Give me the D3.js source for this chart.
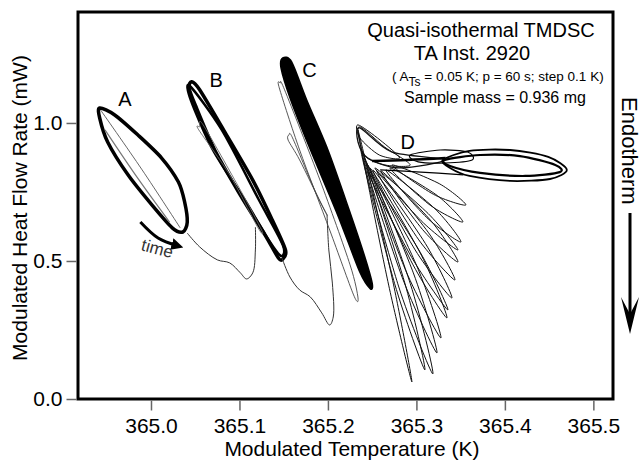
<!DOCTYPE html>
<html><head><meta charset="utf-8">
<script src="https://cdn.jsdelivr.net/npm/d3@7"></script>
<style>body{margin:0;background:#fff}svg text{font-family:"Liberation Sans",Arial,Helvetica,sans-serif}</style>
</head><body><svg id="c" width="643" height="462"></svg>
<script>
// ---- tick values ----
const xTicks = [365.0, 365.1, 365.2, 365.3, 365.4, 365.5];
const yTicks = [0.0, 0.5, 1.0];

// ---- loops: [modulated temperature (K), modulated heat flow (mW)] ----
const loopA = [[364.942,1.054],[364.959,1.029],[364.985,0.957],[365.012,0.873],[365.031,0.786],[365.038,0.714],[365.041,0.641],[365.036,0.605],[365.024,0.620],[365.001,0.703],[364.974,0.812],[364.951,0.931],[364.942,1.018]];
const lineAInner = [[364.943,1.047],[364.990,0.830],[365.033,0.620]];
const lineAInner2 = [[364.948,0.975],[364.985,0.800],[365.021,0.641]];
const connectAB = [[365.041,0.601],[365.055,0.551],[365.075,0.504],[365.089,0.493],[365.101,0.457],[365.108,0.435],[365.115,0.457],[365.118,0.540],[365.118,0.623]];
const loopB = [[365.046,1.149],[365.055,1.120],[365.082,0.975],[365.115,0.793],[365.137,0.649],[365.152,0.540],[365.149,0.507],[365.144,0.511],[365.129,0.594],[365.101,0.739],[365.072,0.902],[365.050,1.065],[365.043,1.127]];
const loopB2 = [[365.044,1.134],[365.080,0.975],[365.122,0.721],[365.149,0.558],[365.147,0.518],[365.133,0.576],[365.106,0.721],[365.070,0.902],[365.045,1.083]];
const loopBInner = [[365.055,0.986],[365.059,0.993],[365.101,0.757],[365.125,0.612],[365.121,0.620],[365.089,0.812],[365.054,0.975]];
const connectBC = [[365.148,0.511],[365.157,0.442],[365.168,0.395],[365.180,0.370],[365.193,0.312],[365.202,0.268],[365.206,0.297],[365.205,0.420],[365.201,0.540],[365.199,0.667]];
const loopC = [[365.149,1.236],[365.159,1.221],[365.176,1.083],[365.200,0.902],[365.224,0.685],[365.241,0.522],[365.250,0.420],[365.248,0.399],[365.236,0.460],[365.211,0.667],[365.178,0.920],[365.158,1.083],[365.147,1.199]];
const loopC1 = [[365.146,1.145],[365.151,1.120],[365.191,0.793],[365.225,0.486],[365.234,0.366],[365.229,0.377],[365.202,0.612],[365.168,0.902],[365.145,1.127]];
const loopC2 = [[365.156,0.957],[365.160,0.946],[365.185,0.757],[365.199,0.667],[365.193,0.703],[365.168,0.866],[365.155,0.938]];
const fanD = [
  [[365.2723,0.8478],[365.3258,0.7801],[365.3559,0.7029],[365.3192,0.7417]],
  [[365.2701,0.8370],[365.3236,0.7370],[365.3525,0.6413],[365.3155,0.7022]],
  [[365.2655,0.8297],[365.3211,0.6888],[365.3503,0.5688],[365.3116,0.6576]],
  [[365.2531,0.8370],[365.3133,0.6717],[365.3469,0.5399],[365.3054,0.6457]],
  [[365.2599,0.8261],[365.3173,0.6424],[365.3469,0.4964],[365.3069,0.6141]],
  [[365.2554,0.8261],[365.3138,0.6018],[365.3435,0.4312],[365.3027,0.5764]],
  [[365.2508,0.8297],[365.3102,0.5630],[365.3401,0.3659],[365.2986,0.5399]],
  [[365.2452,0.8225],[365.3043,0.5315],[365.3356,0.3225],[365.2946,0.5134]],
  [[365.2475,0.8370],[365.3056,0.5207],[365.3345,0.2935],[365.2937,0.5011]],
  [[365.2441,0.8514],[365.3005,0.4815],[365.3277,0.2210],[365.2880,0.4649]],
  [[365.2407,0.8732],[365.2965,0.4569],[365.3232,0.1667],[365.2838,0.4417]],
  [[365.2384,0.8949],[365.2930,0.4188],[365.3186,0.0906],[365.2801,0.4058]],
  [[365.2373,0.9022],[365.2861,0.4290],[365.3096,0.1051],[365.2753,0.4188]],
  [[365.2339,0.9746],[365.2732,0.4286],[365.2949,0.0616],[365.2678,0.4250]]
];
const capD1 = [[365.234,0.993],[365.259,0.938],[365.281,0.873],[365.258,0.884],[365.236,0.946]];
const capD2 = [[365.236,0.982],[365.272,0.895],[365.332,0.866],[365.281,0.837],[365.245,0.873],[365.234,0.931]];
const capD3 = [[365.235,0.986],[365.264,0.913],[365.293,0.848],[365.264,0.848],[365.241,0.884]];
const barD = [[365.250,0.862],[365.290,0.866],[365.333,0.873]];
const barD2 = [[365.259,0.830],[365.305,0.822],[365.353,0.812]];
const ellipseD1 = [[365.330,0.866],[365.360,0.899],[365.406,0.902],[365.449,0.877],[365.470,0.830],[365.451,0.797],[365.406,0.790],[365.360,0.808],[365.338,0.837]];
const ellipseD2 = [[365.332,0.866],[365.372,0.884],[365.417,0.880],[365.457,0.848],[365.462,0.822],[365.423,0.808],[365.372,0.819],[365.338,0.844]];
const ellipseD3 = [[365.293,0.884],[365.327,0.902],[365.358,0.895],[365.363,0.866],[365.332,0.855],[365.302,0.859]];
const timeArrow = [[364.988,0.641],[365.008,0.583],[365.030,0.555]];

const W = 643, H = 462;
const m = {l:78, t:12, r:30, b:63};
const svg = d3.select('#c');
const x = d3.scaleLinear().domain([364.9175, 365.5222]).range([m.l, W - m.r]);
const y = d3.scaleLinear().domain([0, 1.402]).range([H - m.b, m.t]);

svg.append('defs').append('marker').attr('id','ah').attr('viewBox','0 0 10 10')
  .attr('refX',5).attr('refY',5).attr('markerWidth',4).attr('markerHeight',4).attr('orient','auto')
  .append('path').attr('d','M0,0L10,5L0,10Z').attr('fill','#000');

const closed = d3.line().x(d=>x(d[0])).y(d=>y(d[1])).curve(d3.curveCardinalClosed.tension(0.15));
const open = d3.line().x(d=>x(d[0])).y(d=>y(d[1])).curve(d3.curveCatmullRom.alpha(0.5));
const g = svg.append('g');

function loop(data, sw, col, fill){ g.append('path').attr('d', closed(data)).attr('fill', fill||'none').attr('stroke', col||'#000').attr('stroke-width', sw); }
function line(data, sw, col){ g.append('path').attr('d', open(data)).attr('fill','none').attr('stroke', col||'#000').attr('stroke-width', sw); }

// A
loop(loopA, 3.5);
line(lineAInner, 0.9, '#555');
line(lineAInner2, 1.2, '#777');
line(connectAB, 1, '#333');
// B
loop(loopB, 3.5);
loop(loopB2, 2.5);
loop(loopBInner, 0.9, '#666');
line(connectBC, 1, '#333');
// C
loop(loopC1, 0.9, '#444');
loop(loopC2, 0.9, '#444');
loop(loopC, 1.5, '#000', '#000');
// D
fanD.forEach(l => loop(l, 1, '#111'));
loop(capD1, 1, '#111');
loop(capD2, 1.3, '#111');
loop(capD3, 1, '#111');
line(barD, 2.5);
line(barD2, 1.2);
loop(ellipseD1, 1.8);
loop(ellipseD2, 2.2);
loop(ellipseD3, 1.2);

// time arrow
g.append('path').attr('d', open(timeArrow)).attr('fill','none').attr('stroke','#000').attr('stroke-width',3).attr('marker-end','url(#ah)');
g.append('text').attr('transform',`translate(${x(364.988)},${y(0.54)}) rotate(15)`).attr('font-size',17).attr('fill','#333').text('time');

// frame
svg.append('rect').attr('x',m.l).attr('y',m.t).attr('width',W-m.l-m.r).attr('height',H-m.t-m.b)
  .attr('fill','none').attr('stroke','#000').attr('stroke-width',3);

// axes
const xa = svg.append('g').attr('transform',`translate(0,${H-m.b+1.5})`)
  .call(d3.axisBottom(x).tickValues(xTicks).tickFormat(d3.format('.1f')).tickSize(10).tickSizeOuter(0));
const ya = svg.append('g').attr('transform',`translate(${m.l-1.5},0)`)
  .call(d3.axisLeft(y).tickValues(yTicks).tickFormat(d3.format('.1f')).tickSize(10).tickSizeOuter(0));
[xa, ya].forEach(a => { a.select('.domain').remove(); a.selectAll('line').attr('stroke','#666').attr('stroke-width',1.5);
  a.selectAll('text').attr('font-size',21).attr('fill','#000').style('font-family','"Liberation Sans",Arial,sans-serif'); });
xa.selectAll('text').attr('dy','0.71em').attr('y',18);
ya.selectAll('text').attr('x',-14);

// axis titles
svg.append('text').attr('x',352).attr('y',456).attr('text-anchor','middle').attr('font-size',21).text('Modulated Temperature  (K)');
svg.append('text').attr('transform','translate(27,208) rotate(-90)').attr('text-anchor','middle').attr('font-size',21).text('Modulated Heat Flow Rate  (mW)');

// loop labels
[['A',364.963,1.06],['B',365.066,1.13],['C',365.171,1.167],['D',365.282,0.905]].forEach(([t,a,b]) =>
  svg.append('text').attr('x',x(a)).attr('y',y(b)).attr('font-size',20).text(t));

// annotation block
svg.append('text').attr('x',481).attr('y',37).attr('text-anchor','middle').attr('font-size',20).text('Quasi-isothermal TMDSC');
svg.append('text').attr('x',472).attr('y',59.5).attr('text-anchor','middle').attr('font-size',20).text('TA Inst. 2920');
const p = svg.append('text').attr('x',392).attr('y',81).attr('font-size',13.5);
p.append('tspan').text('( A');
p.append('tspan').attr('dy',5).attr('font-size',12).text('Ts');
p.append('tspan').attr('dy',-5).text(' = 0.05 K;  p = 60 s; step 0.1 K)');
svg.append('text').attr('x',495).attr('y',103).attr('text-anchor','middle').attr('font-size',16).text('Sample mass = 0.936 mg');

// Endotherm
svg.append('text').attr('transform','translate(622,97) rotate(90)').attr('font-size',22).text('Endotherm');
svg.append('line').attr('x1',630).attr('x2',630).attr('y1',213).attr('y2',318).attr('stroke','#000').attr('stroke-width',3);
svg.append('path').attr('d','M621,297L630,334L639,297L630,314Z').attr('fill','#000');
</script></body></html>
